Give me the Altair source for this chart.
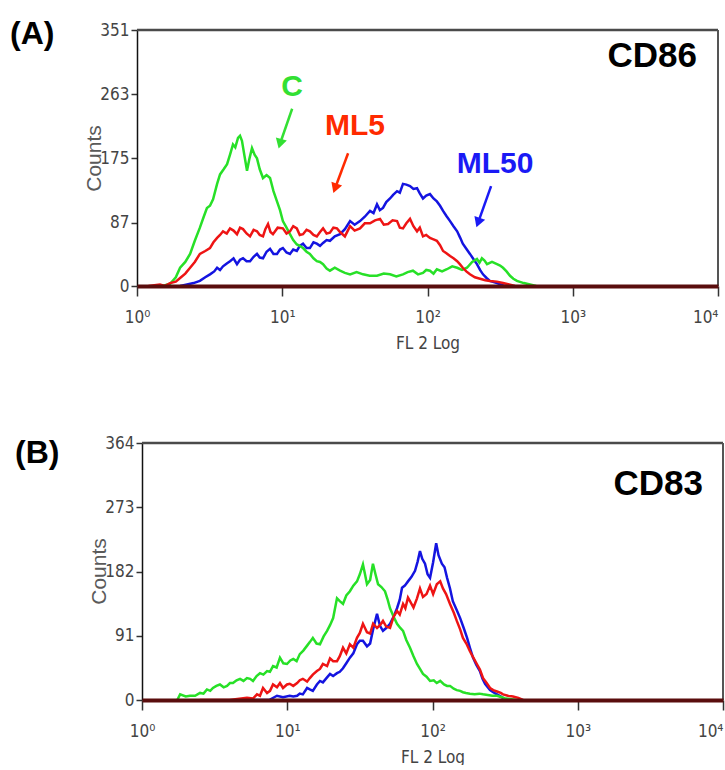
import altair as alt
import pandas as pd

# ---------------- data ----------------
# Panel A (CD86)
a_c_fl = [1.30, 1.50, 1.69, 1.85, 1.98, 2.15, 2.32, 2.50, 2.71, 2.88,
          3.03, 3.18, 3.34, 3.56, 3.73, 3.95, 4.17, 4.37, 4.58, 4.75,
          4.96, 5.12, 5.28, 5.50, 5.72, 5.95, 6.19, 6.45, 6.70, 7.00,
          7.37, 7.80, 8.24, 8.70, 9.20, 9.65, 10.1, 10.7, 11.3, 11.9,
          12.6, 13.2, 13.9, 14.7, 15.5, 16.4, 17.3, 18.2, 19.1, 20.2,
          21.3, 23.0, 25.0, 27.0, 29.3, 32.5, 36.0, 40.0, 44.9, 50.0,
          55.2, 61.0, 67.8, 73.0, 79.4, 86.0, 93.1, 98.0, 104, 110,
          116, 126, 136, 148, 160, 173, 187, 203, 219, 228,
          237, 247, 257, 278, 301, 316, 331, 350, 370, 390,
          413, 460, 508, 560]
a_c_cnt = [0, 0, 3, 12, 25, 33, 44, 62, 80, 95,
           107, 110, 119, 140, 153, 160, 167, 180, 194, 190,
           203, 206, 199, 178, 158, 175, 189, 180, 175, 160,
           148, 152, 148, 130, 116, 104, 89, 80, 71, 63,
           57, 55, 52, 47, 44, 38, 34, 33, 30, 24,
           21, 25, 21, 18, 16, 19, 16, 14, 14, 17,
           16, 13, 16, 19, 21, 16, 18, 22, 21, 17,
           23, 20, 23, 27, 25, 22, 25, 33, 37, 32,
           38, 35, 30, 33, 30, 28, 25, 20, 14, 10,
           7, 4, 2, 0]

a_ml5_fl = [1.20, 1.44, 1.55, 1.69, 1.85, 1.98, 2.15, 2.32, 2.50, 2.71,
            2.95, 3.18, 3.36, 3.56, 3.73, 3.91, 4.15, 4.37, 4.62, 4.88,
            5.12, 5.37, 5.68, 6.00, 6.35, 6.70, 7.00, 7.37, 7.65, 7.98,
            8.30, 8.63, 9.30, 10.1, 10.7, 11.3, 11.9, 12.6, 13.2, 13.9,
            14.7, 15.5, 16.4, 17.3, 18.2, 19.1, 20.2, 21.3, 22.5, 23.8,
            25.0, 27.0, 29.3, 31.5, 34.3, 37.0, 40.2, 43.5, 47.1, 50.0,
            53.5, 57.5, 61.7, 64.5, 67.8, 71.5, 75.8, 80.0, 84.7, 88.5,
            93.1, 98.0, 104, 110, 116, 122, 128, 135, 143, 151,
            160, 167, 175, 185, 196, 212, 230, 250, 269, 300,
            331, 365, 400]
a_ml5_cnt = [0, 2, 0, 4, 6, 11, 17, 25, 33, 44,
             48, 52, 60, 66, 70, 75, 72, 79, 76, 71,
             80, 78, 72, 68, 77, 75, 70, 68, 78, 85,
             74, 71, 80, 79, 72, 75, 82, 79, 70, 71,
             77, 75, 70, 68, 74, 79, 72, 73, 80, 79,
             74, 68, 82, 76, 79, 86, 86, 90, 92, 84,
             85, 90, 89, 80, 79, 86, 92, 82, 75, 80,
             68, 70, 66, 64, 62, 56, 48, 45, 41, 38,
             34, 30, 25, 20, 16, 12, 10, 8, 7, 6,
             4, 2, 0]

a_ml50_fl = [1.98, 2.21, 2.45, 2.71, 2.95, 3.18, 3.40, 3.56, 3.73, 3.91,
             4.15, 4.37, 4.62, 4.88, 5.12, 5.37, 5.68, 6.00, 6.35, 6.70,
             7.00, 7.37, 7.80, 8.24, 8.70, 9.20, 9.65, 10.1, 10.7, 11.3,
             11.9, 12.6, 13.2, 13.9, 14.7, 15.5, 16.4, 17.3, 18.2, 19.1,
             20.2, 21.3, 23.0, 25.0, 27.0, 29.3, 31.5, 34.3, 37.0, 40.2,
             42.5, 44.9, 47.0, 49.4, 52.0, 55.2, 58.0, 61.7, 64.5, 67.8,
             71.5, 75.8, 80.0, 84.7, 88.5, 93.1, 98.0, 104, 110, 116,
             122, 128, 135, 143, 151, 160, 168, 175, 185, 196,
             207, 219, 230, 241, 255, 269, 301, 340]
a_ml50_cnt = [0, 2, 4, 7, 12, 16, 20, 25, 22, 27,
              31, 34, 38, 30, 36, 38, 34, 34, 40, 44,
              39, 38, 47, 51, 44, 44, 50, 52, 46, 44,
              50, 48, 55, 58, 52, 52, 60, 58, 55, 59,
              63, 62, 68, 71, 78, 89, 84, 89, 95, 103,
              100, 112, 104, 107, 115, 120, 125, 130, 128, 140,
              139, 137, 133, 134, 127, 120, 124, 126, 120, 116,
              110, 103, 96, 89, 82, 75, 66, 58, 51, 44,
              37, 30, 22, 16, 11, 7, 4, 0]

# Panel B (CD83)
b_c_fl = [1.75, 1.83, 2.00, 2.14, 2.32, 2.51, 2.65, 2.80, 2.95, 3.08,
          3.25, 3.44, 3.65, 3.85, 4.03, 4.23, 4.48, 4.73, 5.00, 5.28,
          5.55, 5.81, 6.15, 6.49, 6.85, 7.26, 7.60, 7.98, 8.45, 8.91,
          9.40, 9.96, 10.5, 11.0, 11.6, 12.2, 12.9, 13.7, 14.3, 15.0,
          15.9, 16.8, 17.8, 18.8, 19.7, 20.7, 22.0, 23.0, 24.2, 25.5,
          27.0, 28.5, 30.2, 31.6, 33.2, 34.3, 35.4, 37.2, 38.9, 40.5,
          42.2, 44.5, 47.1, 49.0, 51.0, 54.0, 57.0, 60.0, 62.7, 66.0,
          70.0, 74.0, 78.2, 82.0, 86.0, 91.0, 96.2, 102, 107, 113,
          120, 126, 132, 140, 147, 155, 162, 170, 181, 195,
          210, 223, 240, 258, 278, 300, 320, 350, 380]
b_c_cnt = [0, 8, 5, 6, 6, 10, 9, 15, 13, 17,
           20, 22, 18, 20, 24, 24, 28, 30, 27, 31,
           30, 27, 34, 38, 36, 41, 40, 48, 46, 60,
           52, 51, 56, 58, 55, 65, 70, 77, 82, 88,
           80, 79, 90, 98, 106, 116, 144, 140, 136, 148,
           154, 162, 168, 178, 192, 178, 164, 170, 193, 178,
           164, 160, 154, 143, 130, 118, 108, 102, 98, 85,
           74, 62, 51, 44, 37, 33, 27, 28, 24, 27,
           22, 20, 20, 16, 14, 13, 11, 10, 9, 8,
           9, 8, 7, 6, 6, 4, 2, 1, 0]

b_ml5_fl = [2.5, 4.0, 5.28, 5.81, 6.19, 6.49, 6.81, 7.26, 7.61, 7.98,
            8.50, 8.91, 9.35, 9.96, 10.4, 11.0, 11.7, 12.2, 12.8, 13.7,
            14.3, 15.0, 16.0, 16.8, 17.6, 18.8, 19.7, 20.7, 22.0, 23.0,
            24.2, 25.5, 27.0, 28.5, 30.2, 31.6, 33.2, 35.4, 37.2, 39.0,
            41.5, 43.5, 45.6, 48.0, 51.0, 54.0, 57.0, 59.5, 62.7, 65.0,
            67.8, 70.0, 74.0, 78.2, 82.0, 86.0, 91.0, 96.2, 101, 107,
            113, 118, 124, 132, 140, 147, 155, 162, 171, 181,
            191, 202, 212, 223, 236, 249, 262, 278, 295, 306,
            330, 358, 390, 420]
b_ml5_cnt = [0, 0, 3, 2, 8, 6, 17, 10, 13, 22,
             18, 24, 17, 22, 23, 20, 24, 28, 30, 26,
             31, 36, 41, 44, 51, 48, 59, 55, 55, 62,
             74, 66, 79, 74, 88, 95, 108, 96, 94, 108,
             102, 106, 112, 104, 102, 118, 126, 121, 136, 130,
             145, 140, 131, 144, 158, 146, 150, 162, 150, 164,
             168, 158, 150, 136, 124, 112, 100, 88, 80, 69,
             60, 51, 43, 31, 24, 17, 14, 12, 10, 8,
             6, 5, 3, 0]

b_ml50_fl = [6.0, 7.5, 8.50, 9.35, 10.4, 11.0, 11.7, 12.2, 12.8, 13.7,
             14.3, 15.0, 16.0, 16.8, 17.6, 18.8, 19.7, 20.7, 22.0, 23.0,
             24.2, 25.5, 27.0, 28.5, 30.2, 31.6, 33.2, 35.4, 37.2, 39.0,
             41.5, 43.5, 45.6, 48.0, 51.0, 54.0, 57.0, 59.5, 61.7, 64.5,
             67.8, 71.5, 75.8, 79.0, 82.0, 85.0, 88.8, 92.5, 96.2, 101,
             106, 110, 116, 121, 126, 132, 138, 147, 155, 164,
             173, 181, 190, 200, 212, 221, 230, 240, 249, 262,
             278, 300, 320]
b_ml50_cnt = [0, 0, 6, 4, 6, 5, 6, 9, 8, 17,
              15, 13, 22, 27, 25, 32, 37, 34, 38, 40,
              45, 52, 60, 66, 79, 84, 84, 76, 80, 100,
              122, 105, 98, 102, 108, 118, 130, 142, 159, 162,
              168, 174, 183, 196, 211, 200, 193, 178, 173, 195,
              222, 205, 193, 188, 173, 158, 140, 127, 116, 102,
              88, 74, 60, 50, 41, 30, 23, 18, 14, 11,
              8, 4, 0]

# axis limits / ticks
a_ymax = 351
a_yticks = [0, 87, 175, 263, 351]
b_ymax = 364
b_yticks = [0, 91, 182, 273, 364]
x_ticks = [1, 10, 100, 1000, 10000]

# annotations of panel A (data coordinates)
ann_text = ["C", "ML5", "ML50"]
ann_fl = [11.7, 31.7, 292]
ann_cnt = [273, 219, 167]
arrow_fl_start = [11.7, 28.4, 274]
arrow_cnt_start = [243, 182, 137]
arrow_fl_end = [9.65, 23.1, 223]
arrow_cnt_end = [195, 134, 87]
arrow_angle = [196, 200, 200]

# ---------------- styling ----------------
GREEN = "#27e027"
RED = "#ee1414"
BLUE = "#1414e0"
ANN_COLORS = ["#33e033", "#ff2a00", "#1a1af5"]
MAROON = "#5a0d0d"
NARROW = "Liberation Sans Narrow, DejaVu Sans Condensed, Arial Narrow, sans-serif"
SANS = "Liberation Sans, Arial, Helvetica, sans-serif"
TICK_GREY = "#444444"

SUP = ("datum.value == 1 ? '10⁰' : datum.value == 10 ? '10¹' : "
       "datum.value == 100 ? '10²' : datum.value == 1000 ? '10³' : '10⁴'")


def series(fl, cnt, name):
    assert len(fl) == len(cnt), name
    return pd.DataFrame({"fl": fl, "count": cnt, "sample": name})


def panel(curves, ymax, yticks, xrange, yoffset, tag, tag_x, tag_y,
          marker, marker_fl, marker_cnt, annotate):
    xscale = alt.Scale(type="log", domain=[1, 10000], range=xrange, nice=False)
    yscale = alt.Scale(domain=[0, ymax], nice=False, zero=True)
    xaxis = alt.Axis(
        values=x_ticks, labelExpr=SUP, title="FL 2 Log", grid=False,
        tickSize=10, tickWidth=1.5, tickColor="#333333",
        domainColor=MAROON, domainWidth=4,
        labelFont=NARROW, labelFontSize=17, labelColor=TICK_GREY, labelPadding=13,
        labelAlign={"condition": {"test": "datum.value >= 10000", "value": "right"},
                    "value": "center"},
        titleFont=NARROW, titleFontSize=17, titleFontWeight="normal",
        titleColor=TICK_GREY, titleY=49, titleBaseline="top", zindex=1,
    )
    yaxis = alt.Axis(
        values=yticks, title="Counts", grid=False, offset=yoffset,
        tickSize=6, tickWidth=1.5, tickColor="#333333",
        domainColor="#111111", domainWidth=1.5,
        labelFont=NARROW, labelFontSize=17, labelColor=TICK_GREY, labelPadding=2,
        titleFont=SANS, titleFontSize=21, titleFontWeight="normal",
        titleColor="#5a5a5a", titleX=-43, titleY=int(256 / 2),
        titleAngle=270, titleBaseline="middle", titleAlign="center",
    )
    x_enc = alt.X("fl:Q", scale=xscale, axis=xaxis)
    y_enc = alt.Y("count:Q", scale=yscale, axis=yaxis)

    layers = []
    # frame: top and right borders
    layers.append(alt.Chart(pd.DataFrame({"fl": [1], "fl2": [10000], "count": [ymax]}))
                  .mark_rule(color="#4a4a4a", strokeWidth=2.5)
                  .encode(x=x_enc, x2="fl2:Q", y=y_enc))
    layers.append(alt.Chart(pd.DataFrame({"fl": [10000], "count": [0], "count2": [ymax]}))
                  .mark_rule(color="#555555", strokeWidth=2)
                  .encode(x=x_enc, y=y_enc, y2="count2:Q"))
    # histograms
    for df, col in curves:
        layers.append(alt.Chart(df).mark_line(color=col, strokeWidth=2.5)
                      .encode(x=x_enc, y=y_enc))
    # panel marker (CD86 / CD83)
    layers.append(alt.Chart(pd.DataFrame({"fl": [marker_fl], "count": [marker_cnt],
                                          "t": [marker]}))
                  .mark_text(font=SANS, fontWeight="bold", fontSize=35, color="black",
                             align="right", baseline="middle")
                  .encode(x=x_enc, y=y_enc, text="t:N"))
    # panel tag (A)/(B) outside the plot
    layers.append(alt.Chart(pd.DataFrame({"t": [tag]}))
                  .mark_text(font=SANS, fontWeight="bold", fontSize=32, color="black",
                             align="left", baseline="top")
                  .encode(x=alt.value(tag_x), y=alt.value(tag_y), text="t:N"))
    if annotate:
        ann = pd.DataFrame({"fl": ann_fl, "count": ann_cnt, "t": ann_text,
                            "color": ANN_COLORS})
        arr = pd.DataFrame({"fl": arrow_fl_start, "count": arrow_cnt_start,
                            "fl2": arrow_fl_end, "count2": arrow_cnt_end,
                            "angle": arrow_angle, "color": ANN_COLORS})
        head = pd.DataFrame({"fl": arrow_fl_end, "count": arrow_cnt_end,
                             "angle": arrow_angle, "color": ANN_COLORS})
        layers.append(alt.Chart(ann)
                      .mark_text(font=SANS, fontWeight="bold", fontSize=30,
                                 align="center", baseline="middle")
                      .encode(x=x_enc, y=y_enc, text="t:N",
                              color=alt.Color("color:N", scale=None)))
        layers.append(alt.Chart(arr).mark_rule(strokeWidth=2.5)
                      .encode(x=x_enc, y=y_enc, x2="fl2:Q", y2="count2:Q",
                              color=alt.Color("color:N", scale=None)))
        layers.append(alt.Chart(head)
                      .mark_point(shape="triangle-up", filled=True, size=130, opacity=1)
                      .encode(x=x_enc, y=y_enc,
                              angle=alt.Angle("angle:Q", scale=None),
                              color=alt.Color("color:N", scale=None)))
    return alt.layer(*layers)


top = panel(
    [(series(a_ml50_fl, a_ml50_cnt, "ML50"), BLUE),
     (series(a_c_fl, a_c_cnt, "C"), GREEN),
     (series(a_ml5_fl, a_ml5_cnt, "ML5"), RED)],
    a_ymax, a_yticks, [0, 581], 0, "(A)", -127, -11,
    "CD86", 7170, 315, True,
).properties(width=586, height=256)

bottom = panel(
    [(series(b_ml50_fl, b_ml50_cnt, "ML50"), BLUE),
     (series(b_c_fl, b_c_cnt, "C"), GREEN),
     (series(b_ml5_fl, b_ml5_cnt, "ML5"), RED)],
    b_ymax, b_yticks, [5, 586], -5, "(B)", -122, -5,
    "CD83", 7280, 306, False,
).properties(width=586, height=257)

chart = (
    alt.vconcat(top, bottom, spacing=157, bounds="flush")
    .properties(padding={"left": 10, "top": 18, "right": 0, "bottom": 0},
                background="white")
    .configure_view(stroke=None)
)

chart.save("out.html", embed_options={"renderer": "svg", "actions": False})
